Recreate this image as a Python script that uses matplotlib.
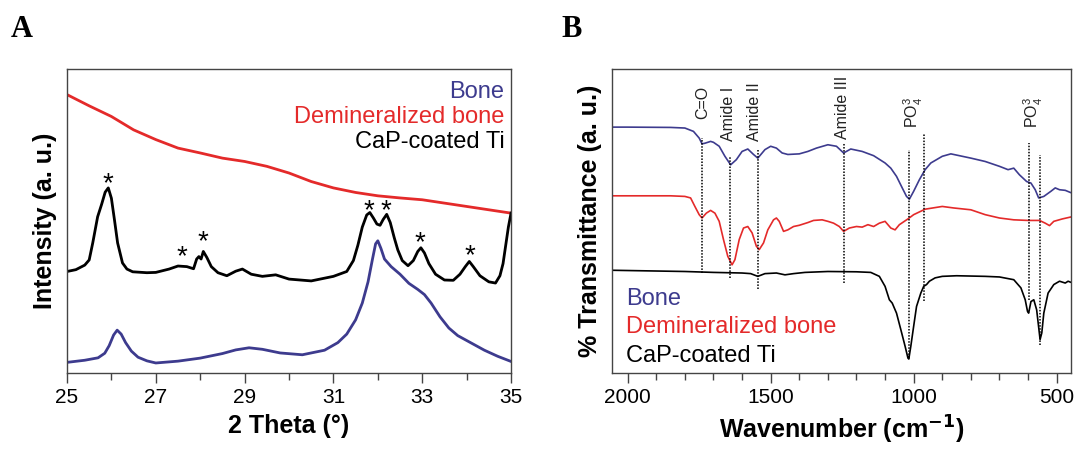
import matplotlib
matplotlib.use("Agg")
import matplotlib.pyplot as plt
import numpy as np

plt.rcParams['font.family'] = ['Liberation Sans', 'DejaVu Sans']
plt.rcParams['mathtext.fontset'] = 'custom'
plt.rcParams['mathtext.rm'] = 'Liberation Sans'

BLUE = '#3d3b8e'
RED = '#e42a2a'

# ---- XRD (panel A) ----
xrd_2theta = [25.0, 25.5, 26.0, 26.5, 27.0, 27.5, 28.0, 28.5, 29.0, 29.5, 30.0,
              30.5, 31.0, 31.5, 32.0, 32.5, 33.0, 33.5, 34.0, 34.5, 35.0]
xrd_demin = [91.6, 87.9, 84.4, 80.0, 76.8, 74.0, 72.4, 70.7, 69.6, 68.0, 65.8,
             63.0, 60.9, 59.4, 58.3, 57.6, 57.0, 55.9, 54.8, 53.7, 52.6]

cap_2theta = [25.0, 25.2, 25.4, 25.5, 25.58, 25.69, 25.78, 25.86, 25.93, 26.0,
              26.07, 26.14, 26.25, 26.35, 26.48, 26.8, 27.0, 27.3, 27.5, 27.7,
              27.85, 27.92, 27.97, 28.02, 28.07, 28.15, 28.25, 28.4, 28.6, 28.8,
              28.95, 29.15, 29.4, 29.7, 30.0, 30.5, 31.0, 31.3, 31.45, 31.55,
              31.65, 31.75, 31.82, 31.9, 31.98, 32.05, 32.12, 32.2, 32.28, 32.37,
              32.45, 32.55, 32.68, 32.8, 32.9, 32.97, 33.05, 33.15, 33.3, 33.5,
              33.7, 33.85, 33.97, 34.06, 34.15, 34.3, 34.5, 34.65, 34.75, 34.82,
              34.88, 34.94, 35.0]
cap_int = [33.4, 34.0, 35.5, 37.2, 42.8, 51.4, 55.5, 59.5, 60.9, 57.5,
           50.3, 42.8, 36.2, 34.2, 33.3, 33.0, 33.1, 34.2, 35.2, 35.0,
           34.3, 37.5, 38.3, 37.5, 40.0, 38.0, 35.0, 33.0, 32.0, 33.5,
           34.2, 32.5, 31.8, 32.3, 30.9, 30.3, 31.8, 33.4, 37.0, 42.0,
           48.0, 52.0, 52.8, 51.0, 49.0, 48.6, 50.5, 52.2, 49.5, 44.5,
           40.5, 37.0, 35.3, 37.0, 40.0, 41.2, 39.5, 36.0, 32.5, 30.6,
           30.5, 32.5, 35.0, 36.7, 35.0, 32.0, 30.0, 29.6, 32.0, 36.0,
           42.0, 48.0, 52.6]

bone_2theta = [25.0, 25.4, 25.7, 25.85, 25.95, 26.05, 26.13, 26.22, 26.32, 26.45,
               26.6, 26.8, 27.0, 27.5, 28.0, 28.5, 28.8, 29.1, 29.4, 29.8, 30.3,
               30.8, 31.1, 31.3, 31.5, 31.65, 31.78, 31.88, 31.95, 32.0, 32.07,
               32.15, 32.3, 32.5, 32.7, 32.9, 33.05, 33.2, 33.4, 33.6, 33.8,
               34.1, 34.4, 34.7, 35.0]
bone_int = [3.5, 4.2, 5.0, 6.5, 9.0, 12.5, 14.1, 12.8, 10.0, 7.2,
            5.2, 4.0, 3.3, 3.9, 4.9, 6.4, 7.6, 8.3, 7.8, 6.6, 6.0,
            7.5, 10.0, 12.8, 17.5, 23.0, 30.0, 37.5, 42.5, 43.5, 41.0,
            37.5, 35.0, 32.5, 29.5, 27.5, 25.8, 23.0, 18.5, 14.8, 12.3,
            9.9, 7.5, 5.5, 3.8]

star_x = [25.93, 27.58, 28.07, 31.79, 32.18, 32.95, 34.07]
star_y = [63.6, 39.5, 44.4, 54.8, 54.8, 44.1, 40.0]

# ---- FTIR (panel B) ----
ir_bone_wn = [2052, 2000, 1850, 1800, 1770, 1750, 1740, 1730, 1710, 1700, 1680,
              1660, 1640, 1620, 1600, 1580, 1560, 1545, 1520, 1500, 1480, 1460,
              1440, 1400, 1370, 1340, 1300, 1270, 1245, 1220, 1180, 1140, 1100,
              1080, 1060, 1040, 1025, 1015, 1000, 980, 960, 940, 900, 870, 840,
              800, 750, 700, 670, 650, 630, 605, 590, 575, 563, 545, 520, 505,
              490, 470, 452]
ir_bone = [80.9, 80.9, 80.8, 80.6, 79.5, 77.3, 75.4, 75.6, 76.2, 75.9, 74.6,
           71.3, 68.5, 70.2, 72.9, 73.7, 71.9, 70.7, 73.5, 74.6, 74.0, 72.4,
           71.9, 72.1, 72.9, 74.0, 75.1, 74.6, 72.4, 73.7, 72.9, 71.5, 69.1,
           67.4, 64.7, 60.9, 58.1, 57.2, 59.8, 63.6, 66.9, 69.1, 71.3, 72.1, 71.5,
           70.7, 69.6, 68.0, 66.9, 67.4, 65.2, 63.0, 62.5, 60.3, 57.6, 58.1, 59.8, 60.9,
           60.3, 60.1, 59.4]

ir_demin_wn = [2052, 1850, 1800, 1780, 1765, 1750, 1740, 1725, 1710, 1695, 1680,
               1665, 1650, 1635, 1625, 1610, 1595, 1580, 1565, 1550, 1540, 1525,
               1510, 1490, 1480, 1470, 1455, 1440, 1420, 1400, 1370, 1350, 1320,
               1300, 1280, 1260, 1245, 1225, 1200, 1180, 1160, 1140, 1120, 1100,
               1080, 1065, 1050, 1020, 1000, 960, 900, 860, 800, 750, 700, 650,
               600, 560, 540, 525, 510, 480, 452]
ir_demin = [58.3, 58.3, 58.1, 57.6, 54.8, 52.1, 51.0, 52.6, 53.5, 52.6, 49.9,
            43.9, 38.4, 35.6, 37.3, 43.9, 47.7, 48.2, 46.1, 41.7, 40.6, 42.8,
            47.1, 50.4, 51.0, 49.9, 46.6, 47.1, 48.2, 48.6, 49.5, 50.2, 50.4,
            49.9, 49.3, 48.2, 46.6, 47.7, 48.2, 48.0, 48.8, 48.2, 49.3, 49.9,
            47.7, 47.1, 48.8, 50.7, 52.1, 53.9, 54.8, 54.3, 53.7, 52.1, 51.0, 50.4,
            50.2, 50.2, 49.3, 48.5, 49.9, 50.7, 51.3]

ir_cap_wn = [2052, 1800, 1700, 1600, 1570, 1545, 1520, 1480, 1450, 1420, 1380,
             1300, 1200, 1150, 1120, 1100, 1085, 1075, 1060, 1045, 1030, 1020,
             1017, 1010, 1000, 990, 975, 965, 955, 945, 925, 900, 850, 750, 700,
             650, 625, 610, 602, 598, 590, 580, 570, 562, 558, 552, 545, 530,
             510, 490, 470, 460, 452]
ir_cap = [33.8, 33.4, 33.1, 32.9, 32.7, 31.8, 32.7, 32.9, 32.3, 32.7, 33.1,
          33.4, 33.3, 33.1, 31.8, 28.5, 24.1, 23.0, 19.7, 14.3, 8.8, 4.9,
          4.6, 8.8, 15.4, 21.9, 26.3, 28.5, 29.1, 30.2, 31.3, 31.8, 32.0, 31.8, 31.6,
          30.7, 28.0, 24.1, 20.3, 19.7, 23.5, 24.1, 20.8, 14.3, 11.0, 13.2, 19.7, 26.3,
          29.1, 30.2, 29.6, 30.2, 29.9]

# band assignments: position, dotted line span, label
band_wn = [1739, 1641, 1545, 1243, 1017, 963, 596, 558]
band_lo = [32.9, 31.3, 27.6, 29.6, 4.9, 23.6, 24.1, 9.3]
band_hi = [77.3, 71.3, 73.5, 75.7, 73.5, 78.9, 75.7, 71.8]
label_wn = [1737, 1646, 1555, 1248, 1000, 583]
label_y = [83.6, 76.2, 76.2, 77.0, 80.6, 80.6]
label_txt = ['C=O', 'Amide I', 'Amide II', 'Amide III',
             r'PO$_4^{3}$', r'PO$_4^{3}$']

legend_txt = ['Bone', 'Demineralized bone', 'CaP-coated Ti']
legend_col = [BLUE, RED, 'black']

fig = plt.figure(figsize=(10.77, 4.55), dpi=100)
axA = fig.add_axes([0.0622, 0.1802, 0.4123, 0.668])
axB = fig.add_axes([0.5682, 0.1802, 0.4262, 0.668])

axA.plot(xrd_2theta, xrd_demin, color=RED, lw=2.0)
axA.plot(cap_2theta, cap_int, color='black', lw=2.0)
axA.plot(bone_2theta, bone_int, color=BLUE, lw=2.0)
for sx, sy in zip(star_x, star_y):
    axA.text(sx, sy - 1.5, '*', ha='center', va='center', fontsize=20)
axA.set_xlim(25, 35)
axA.set_ylim(0, 100)
axA.set_xticks(np.arange(25, 36, 2))
axA.set_xticks(np.arange(25, 36, 1), minor=True)
axA.set_xlabel('2 Theta (°)', fontsize=18, fontweight='bold', labelpad=5)
axA.set_ylabel('Intensity (a. u.)', fontsize=18, fontweight='bold', labelpad=7)
for i, (t, c) in enumerate(zip(legend_txt, legend_col)):
    axA.text(0.985, 0.925 - i * 0.083, t, color=c, fontsize=17, ha='right',
             va='center', transform=axA.transAxes)

axB.plot(ir_bone_wn, ir_bone, color=BLUE, lw=1.2)
axB.plot(ir_demin_wn, ir_demin, color=RED, lw=1.2)
axB.plot(ir_cap_wn, ir_cap, color='black', lw=1.2)
for wn, lo, hi in zip(band_wn, band_lo, band_hi):
    axB.plot([wn, wn], [lo, hi], color='black', lw=1.1, ls=(0, (1.0, 1.0)))
for wn, ly, t in zip(label_wn, label_y, label_txt):
    axB.text(wn, ly, t, rotation=90, ha='center', va='bottom', fontsize=11.5,
             color='#222222')
axB.set_xlim(2055, 450)
axB.set_ylim(0, 100)
axB.set_xticks([2000, 1500, 1000, 500])
axB.set_xticks(np.arange(2000, 449, -100), minor=True)
axB.set_xlabel('Wavenumber (cm$^{\\mathbf{-1}}$)', fontsize=18, fontweight='bold',
               labelpad=5)
axB.set_ylabel('% Transmittance (a. u.)', fontsize=18, fontweight='bold', labelpad=7)
for i, (t, c) in enumerate(zip(legend_txt, legend_col)):
    axB.text(0.03, 0.245 - i * 0.095, t, color=c, fontsize=17, ha='left',
             va='center', transform=axB.transAxes)

for ax in (axA, axB):
    ax.set_yticks([])
    for s in ax.spines.values():
        s.set_color('#444444')
        s.set_linewidth(1.0)
    ax.tick_params(axis='x', which='both', direction='out', length=7, width=1,
                   color='#444444', labelsize=15, pad=4)
    ax.tick_params(axis='x', which='minor', length=5)

fig.text(0.010, 0.918, 'A', fontsize=22, fontweight='bold', family='Liberation Serif')
fig.text(0.521, 0.918, 'B', fontsize=22, fontweight='bold', family='Liberation Serif')

fig.savefig('out.png', dpi=100)
